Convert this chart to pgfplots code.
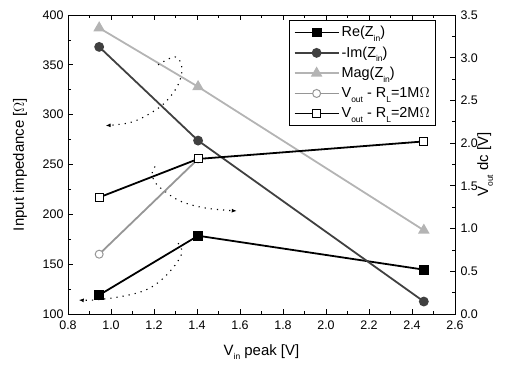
\documentclass[border=0pt]{standalone}
\usepackage{pgfplots}
\pgfplotsset{compat=1.18}
\usepackage{fontspec}
\setmainfont{Liberation Sans}
\usetikzlibrary{arrows.meta}
\definecolor{cIm}{RGB}{64,64,64}
\definecolor{cMag}{RGB}{180,180,180}
\definecolor{cV1}{RGB}{150,150,150}
\newcommand\sub[1]{\raisebox{-0.6ex}{\fontsize{8.5}{9}\selectfont #1}}
\begin{document}
\begin{tikzpicture}
\pgfplotsset{
  every axis/.append style={
    scale only axis, width=387bp, height=299bp,
    at={(0,0)}, anchor=south west,
    tick align=inside, axis line style={line width=0.9pt},
    major tick length=5bp, minor tick length=3bp,
    every tick/.style={line width=0.8pt,black},
    /pgf/number format/assume math mode=true,
    tick label style={font=\fontsize{12.5}{14}\selectfont},
    label style={font=\fontsize{15}{17}\selectfont},
    xmin=0.8, xmax=2.6,
  },
  lin/.style={line width=1.8pt, mark size=4pt},
}
\begin{axis}[
  ymin=100, ymax=400,
  ytick={100,150,...,400}, minor y tick num=1,
  xtick={0.8,1.0,...,2.6}, minor x tick num=1,
  ytick pos=left, xtick pos=both,
  x tick label style={yshift=-3bp, /pgf/number format/.cd, fixed, fixed zerofill, precision=1},
  y tick label style={xshift=-1bp},
  ylabel={Input impedance [$\Omega$]},
  xlabel={V\sub{in} peak [V]},
  ylabel style={at={(axis description cs:-0.124,0.5)}, anchor=center},
  xlabel style={at={(axis description cs:0.5,-0.127)}, anchor=center},
]
\addplot[lin, black, mark=square*] coordinates {(0.945,119) (1.405,178.5) (2.455,144.5)};
\addplot[lin, cIm, mark=*] coordinates {(0.945,368) (1.405,274) (2.455,112.5)};
\addplot[lin, cMag, mark=triangle*, mark size=5pt] coordinates {(0.945,387) (1.405,328) (2.455,184)};
\draw[line width=1.1pt, dash pattern=on 1.2pt off 5pt, -{Latex[length=5pt,width=4pt]}]
  plot[smooth, tension=0.6] coordinates {(1.219,350) (1.298,358) (1.33,347) (1.312,330) (1.251,312) (1.172,300) (1.088,292) (0.975,289)};
\draw[line width=1.1pt, dash pattern=on 1.2pt off 5pt, -{Latex[length=5pt,width=4pt]}]
  plot[smooth, tension=0.6] coordinates {(1.205,248) (1.191,241) (1.205,232) (1.242,224.5) (1.321,213.4) (1.437,206.4) (1.585,203.4)};
\draw[line width=1.1pt, dash pattern=on 1.2pt off 5pt, -{Latex[length=5pt,width=4pt]}]
  plot[smooth, tension=0.6] coordinates {(1.312,171) (1.33,162) (1.298,149) (1.228,133) (1.149,123) (1.033,117) (0.916,114) (0.85,114)};
\end{axis}
\begin{axis}[
  ymin=0, ymax=3.5,
  ytick={0,0.5,...,3.5}, minor y tick num=1,
  axis y line*=right, axis x line=none,
  y tick label style={xshift=2bp, /pgf/number format/.cd, fixed, fixed zerofill, precision=1},
  ylabel={V\sub{out} dc [V]},
  ylabel style={at={(axis description cs:1.078,0.5)}, anchor=center},
  legend style={at={(0.951,0.983)}, anchor=north east, draw=black, line width=0.8pt,
    font=\fontsize{14.5}{16}\selectfont, row sep=4.5pt, inner sep=4pt},
  legend cell align=left,
  legend image code/.code={\draw[mark repeat=2,mark phase=2,#1] plot coordinates {(0cm,0cm) (0.78cm,0cm) (1.56cm,0cm)};},
]
\addlegendimage{lin, black, mark=square*}
\addlegendentry{Re(Z\sub{in})}
\addlegendimage{lin, cIm, mark=*}
\addlegendentry{-Im(Z\sub{in})}
\addlegendimage{lin, cMag, mark=triangle*, mark size=5pt}
\addlegendentry{Mag(Z\sub{in})}
\addplot[lin, cV1, mark=*, mark options={fill=white, line width=1pt}] coordinates {(0.945,0.70) (1.405,1.815)};
\addlegendentry{V\sub{out} - R\sub{L}=1M$\Omega$}
\addplot[lin, black, mark=square*, mark options={fill=white, line width=1pt}] coordinates {(0.945,1.365) (1.405,1.815) (2.455,2.02)};
\addlegendentry{V\sub{out} - R\sub{L}=2M$\Omega$}
\end{axis}
\pgfresetboundingbox
\path[use as bounding box] (-68bp,-53bp) rectangle (437bp,314bp);
\end{tikzpicture}
\end{document}
